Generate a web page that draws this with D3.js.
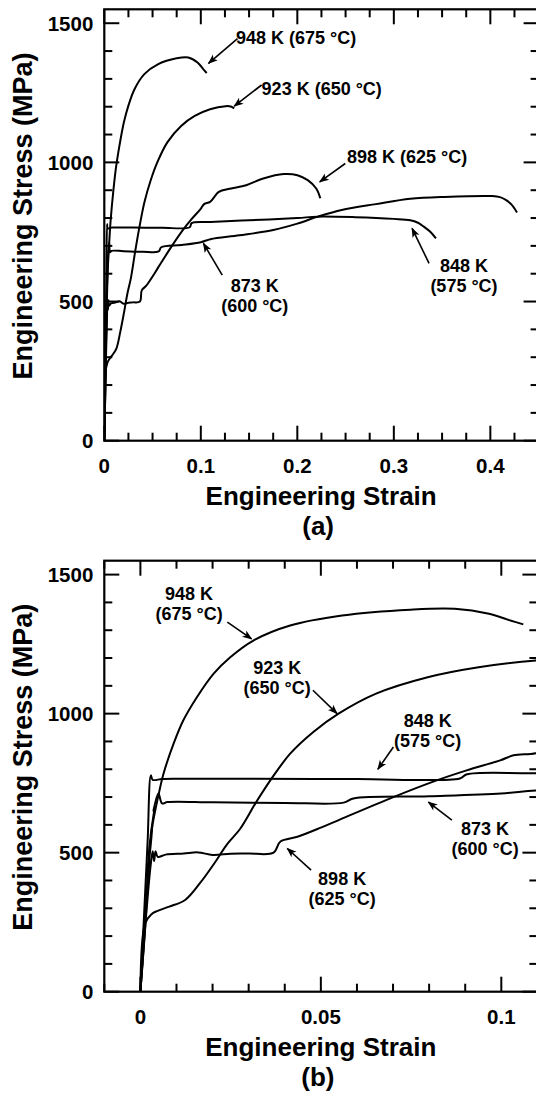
<!DOCTYPE html>
<html>
<head>
<meta charset="utf-8">
<script src="https://cdn.jsdelivr.net/npm/d3@7"></script>
<style>
  body { margin: 0; background: #fff; }
  svg { display: block; }
  text { font-family: "Liberation Sans", Arial, Helvetica, sans-serif; font-weight: bold; fill: #000; }
  .frame { fill: none; stroke: #000; stroke-width: 2.2; }
  .tick { stroke: #000; stroke-width: 2; }
  .curve { fill: none; stroke: #000; stroke-width: 2; stroke-linejoin: round; }
  .arrow { stroke: #000; stroke-width: 1.6; }
</style>
</head>
<body>
<div id="chartDiv"></div>
<script>
// stress-strain curves, [strain, stress MPa]
var curve848 = [[0,0],[0.001,270],[0.002,540],[0.0029,778],[0.0034,762],[0.006,765],[0.01,766],[0.03,766],[0.06,765],[0.0885,767],[0.0905,782],[0.11,786],[0.15,792],[0.2,800],[0.221,805],[0.26,803],[0.3,797],[0.317,792],[0.325,783],[0.331,769],[0.338,750],[0.3436,727]];
var curve873 = [[0,0],[0.001,170],[0.0018,330],[0.0014,290],[0.0026,480],[0.002,420],[0.0034,600],[0.0028,560],[0.004,670],[0.0036,650],[0.005,713],[0.006,677],[0.0075,682],[0.02,681],[0.04,679],[0.0563,680],[0.059,695],[0.08,703],[0.1,713],[0.11,724],[0.14,738],[0.175,757],[0.2,780],[0.2214,805],[0.246,829],[0.2816,850],[0.317,869],[0.3525,876],[0.402,879],[0.41,875],[0.416,865],[0.422,848],[0.4276,820]];
var curve898 = [[0,0],[0.0015,260],[0.0028,450],[0.0034,505],[0.0038,470],[0.0042,505],[0.0048,485],[0.007,493],[0.012,497],[0.016,501],[0.02,492],[0.025,496],[0.03,497],[0.0369,500],[0.0388,540],[0.0435,557],[0.05,590],[0.0554,620],[0.0701,700],[0.0821,760],[0.0904,796],[0.0997,832],[0.1034,850],[0.1096,858],[0.1187,894],[0.13,905],[0.147,918],[0.1647,942],[0.186,958],[0.2001,954],[0.2108,936],[0.2196,906],[0.2238,871]];
var curve923 = [[0,0],[0.0013,246],[0.003,278],[0.0046,290],[0.008,306],[0.0124,330],[0.0166,392],[0.0205,462],[0.024,530],[0.0276,585],[0.032,680],[0.036,760],[0.0415,856],[0.048,935],[0.0549,1000],[0.0653,1072],[0.0796,1131],[0.0937,1167],[0.1096,1191],[0.1257,1202],[0.131,1201],[0.1346,1194]];
var curve948 = [[0,0],[0.0015,290],[0.0027,545],[0.0055,736],[0.0064,784],[0.0092,892],[0.0119,976],[0.0157,1060],[0.0203,1144],[0.0249,1203],[0.0313,1263],[0.0415,1317],[0.0559,1353],[0.0748,1374],[0.0871,1377],[0.0966,1359],[0.1025,1335],[0.1061,1321]];

var curves = [curve848, curve873, curve898, curve923, curve948];

var yTicks = [0, 500, 1000, 1500];
var xTicksA = [0, 0.1, 0.2, 0.3, 0.4];
var xTicksB = [0, 0.05, 0.1];
var xLabelA = 'Engineering Strain', xLabelB = 'Engineering Strain';
var yLabel = 'Engineering Stress (MPa)';

// annotation text + arrow (tail -> tip), in data units
var notesA = [
  {lines: ['948 K (675 °C)'], at: [0.1365, 1427], anchor: 'start', tail: [0.138, 1445], tip: [0.108, 1356]},
  {lines: ['923 K (650 °C)'], at: [0.163, 1242], anchor: 'start', tail: [0.163, 1278], tip: [0.1346, 1202]},
  {lines: ['898 K (625 °C)'], at: [0.2515, 996], anchor: 'start', tail: [0.2497, 996], tip: [0.2232, 930]},
  {lines: ['873 K', '(600 °C)'], at: [0.1559, 535], anchor: 'middle', tail: [0.1222, 595], tip: [0.1027, 709]},
  {lines: ['848 K', '(575 °C)'], at: [0.3727, 607], anchor: 'middle', tail: [0.3365, 637], tip: [0.3189, 763]}
];
var notesB = [
  {lines: ['948 K', '(675 °C)'], at: [0.0135, 1409], anchor: 'middle', tail: [0.0241, 1329], tip: [0.0308, 1269]},
  {lines: ['923 K', '(650 °C)'], at: [0.0379, 1141], anchor: 'middle', tail: [0.0478, 1084], tip: [0.0545, 1000]},
  {lines: ['848 K', '(575 °C)'], at: [0.0796, 952], anchor: 'middle', tail: [0.0701, 880], tip: [0.0658, 800]},
  {lines: ['873 K', '(600 °C)'], at: [0.0955, 563], anchor: 'middle', tail: [0.0863, 617], tip: [0.0798, 682]},
  {lines: ['898 K', '(625 °C)'], at: [0.0559, 384], anchor: 'middle', tail: [0.0473, 437], tip: [0.0407, 515]}
];

var w = 536, h = 1102;
var svg = d3.select('#chartDiv').append('svg')
  .attr('width', w)
  .attr('height', h);

svg.append('defs').append('marker')
  .attr('id', 'head')
  .attr('viewBox', '-10 -5 12 10')
  .attr('markerWidth', 12).attr('markerHeight', 10)
  .attr('markerUnits', 'userSpaceOnUse')
  .attr('orient', 'auto')
  .append('path')
    .attr('d', 'M1,0 L-9,-3.8 L-6.5,0 L-9,3.8 Z')
    .attr('fill', '#000');

function range(a, b, step) {
  var out = [];
  var n = Math.round((b - a) / step);
  for (var i = 0; i <= n; i++) { out.push(+(a + i * step).toFixed(6)); }
  return out;
}

function isMajor(v, majors) {
  return majors.some(function(m) { return Math.abs(m - v) < 1e-9; });
}

function buildPanel(id, x, y, xTicks, xMinor, xLabel, tag, notes) {
  var g = svg.append('g').attr('id', id);
  var x0 = x.range()[0], x1 = x.range()[1], y0 = y.range()[0], y1 = y.range()[1];
  var yMinor = range(0, 1500, 100);

  g.append('clipPath').attr('id', id + 'clip')
    .append('rect')
      .attr('x', x0).attr('y', y1)
      .attr('width', x1 - x0).attr('height', y0 - y1);

  // inward ticks, bottom/top and left/right
  var tk = g.append('g');
  xMinor.forEach(function(v) {
    var len = isMajor(v, xTicks) ? 15 : 8;
    tk.append('line').attr('class', 'tick')
      .attr('x1', x(v)).attr('x2', x(v)).attr('y1', y0).attr('y2', y0 - len);
    tk.append('line').attr('class', 'tick')
      .attr('x1', x(v)).attr('x2', x(v)).attr('y1', y1).attr('y2', y1 + len);
  });
  yMinor.forEach(function(v) {
    var len = isMajor(v, yTicks) ? 15 : 8;
    tk.append('line').attr('class', 'tick')
      .attr('y1', y(v)).attr('y2', y(v)).attr('x1', x0).attr('x2', x0 + len);
    tk.append('line').attr('class', 'tick')
      .attr('y1', y(v)).attr('y2', y(v)).attr('x1', x1).attr('x2', x1 - len);
  });

  g.append('rect').attr('class', 'frame')
    .attr('x', x0).attr('y', y1)
    .attr('width', x1 - x0).attr('height', y0 - y1);

  // tick labels
  g.selectAll('.xlab')
    .data(xTicks)
    .enter().append('text')
      .attr('class', 'xlab')
      .attr('x', function(d) { return x(d); })
      .attr('y', y0 + 32)
      .attr('text-anchor', 'middle')
      .attr('font-size', 20.5)
      .text(function(d) { return String(d); });
  g.selectAll('.ylab')
    .data(yTicks)
    .enter().append('text')
      .attr('class', 'ylab')
      .attr('x', x0 - 11)
      .attr('y', function(d) { return y(d) + 7.4; })
      .attr('text-anchor', 'end')
      .attr('font-size', 20.5)
      .text(function(d) { return String(d); });

  // curves
  var line = d3.line()
    .x(function(d) { return x(d[0]); })
    .y(function(d) { return y(d[1]); })
    .curve(d3.curveCatmullRom.alpha(0.5));

  g.append('g').attr('clip-path', 'url(#' + id + 'clip)')
    .selectAll('path')
    .data(curves)
    .enter().append('path')
      .attr('class', 'curve')
      .attr('d', line);

  // annotations
  notes.forEach(function(n) {
    g.append('line')
      .attr('class', 'arrow')
      .attr('x1', x(n.tail[0])).attr('y1', y(n.tail[1]))
      .attr('x2', x(n.tip[0])).attr('y2', y(n.tip[1]))
      .attr('marker-end', 'url(#head)');
    var t = g.append('text')
      .attr('text-anchor', n.anchor)
      .attr('font-size', 18);
    n.lines.forEach(function(s, i) {
      t.append('tspan')
        .attr('x', x(n.at[0]))
        .attr('y', y(n.at[1]) + i * 20)
        .text(s);
    });
  });

  // titles
  var cx = (x0 + Math.min(x1, 538)) / 2;
  g.append('text')
    .attr('x', cx).attr('y', y0 + 64.5)
    .attr('text-anchor', 'middle')
    .attr('font-size', 26)
    .text(xLabel);
  g.append('text')
    .attr('x', cx - 3).attr('y', y0 + 94)
    .attr('text-anchor', 'middle')
    .attr('font-size', 26)
    .text(tag);
  g.append('text')
    .attr('transform', 'translate(31.5,' + ((y0 + y1) / 2 - 9) + ') rotate(-90)')
    .attr('text-anchor', 'middle')
    .attr('font-size', 27)
    .text(yLabel);
}

// panel (a)
var xA = d3.scaleLinear().domain([0, 0.45]).range([104.3, 538.6]);
var yA = d3.scaleLinear().domain([0, 1550]).range([440.7, 9.3]);
buildPanel('panelA', xA, yA, xTicksA, range(0, 0.45, 0.025), xLabelA, '(a)', notesA);

// panel (b)
var xB = d3.scaleLinear().domain([-0.01, 0.11]).range([104.3, 537.4]);
var yB = d3.scaleLinear().domain([0, 1550]).range([991.7, 560.7]);
buildPanel('panelB', xB, yB, xTicksB, range(-0.01, 0.11, 0.01), xLabelB, '(b)', notesB);
</script>
</body>
</html>
